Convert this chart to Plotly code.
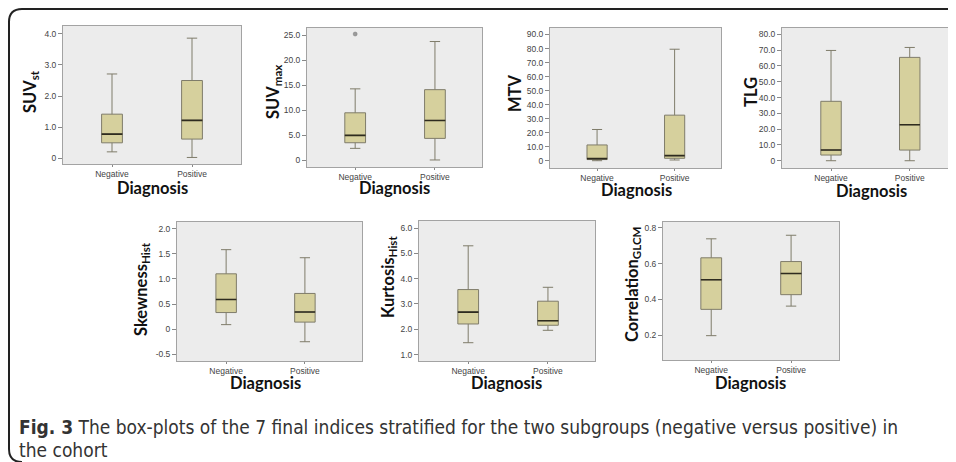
import plotly.graph_objects as go

# page is 956x462; the browser body has an 8px margin, so the figure is drawn
# 8px smaller and all page-pixel positions are shifted by that offset
PAGE_W, PAGE_H = 956, 462
OFF = 8
W, H = PAGE_W - OFF, PAGE_H - OFF

categories = ["Negative", "Positive"]

# ---- data: [Negative, Positive] ----
suvst_lo = [0.21, 0.03]
suvst_q1 = [0.50, 0.62]
suvst_med = [0.78, 1.22]
suvst_q3 = [1.42, 2.50]
suvst_hi = [2.71, 3.86]

suvmax_lo = [2.39, 0.07]
suvmax_q1 = [3.51, 4.38]
suvmax_med = [4.97, 7.96]
suvmax_q3 = [9.48, 14.1]
suvmax_hi = [14.26, 23.7]
suvmax_outlier_cat = ["Negative"]
suvmax_outlier_val = [25.2]

mtv_lo = [0.2, 0.7]
mtv_q1 = [1.0, 1.9]
mtv_med = [1.7, 3.8]
mtv_q3 = [11.4, 32.6]
mtv_hi = [22.4, 79.5]

tlg_lo = [0.0, 0.0]
tlg_q1 = [3.6, 6.75]
tlg_med = [6.75, 22.8]
tlg_q3 = [37.6, 65.4]
tlg_hi = [69.8, 71.7]

skew_lo = [0.09, -0.25]
skew_q1 = [0.33, 0.14]
skew_med = [0.59, 0.34]
skew_q3 = [1.10, 0.71]
skew_hi = [1.58, 1.42]

kurt_lo = [1.47, 1.96]
kurt_q1 = [2.21, 2.16]
kurt_med = [2.68, 2.34]
kurt_q3 = [3.57, 3.11]
kurt_hi = [5.30, 3.66]

corr_lo = [0.198, 0.363]
corr_q1 = [0.345, 0.427]
corr_med = [0.510, 0.545]
corr_q3 = [0.633, 0.612]
corr_hi = [0.739, 0.759]

# tick labels
suvst_ticks = [0, 1, 2, 3, 4]
suvst_ticktext = ["0", "1.0", "2.0", "3.0", "4.0"]
suvmax_ticks = [0, 5, 10, 15, 20, 25]
suvmax_ticktext = ["0", "5.0", "10.0", "15.0", "20.0", "25.0"]
mtv_ticks = [0, 10, 20, 30, 40, 50, 60, 70, 80, 90]
mtv_ticktext = ["0", "10.0", "20.0", "30.0", "40.0", "50.0", "60.0", "70.0", "80.0", "90.0"]
tlg_ticks = [0, 10, 20, 30, 40, 50, 60, 70, 80]
tlg_ticktext = ["0", "10.0", "20.0", "30.0", "40.0", "50.0", "60.0", "70.0", "80.0"]
skew_ticks = [-0.5, 0, 0.5, 1.0, 1.5, 2.0]
skew_ticktext = ["-0.5", "0", "0.5", "1.0", "1.5", "2.0"]
kurt_ticks = [1, 2, 3, 4, 5, 6]
kurt_ticktext = ["1.0", "2.0", "3.0", "4.0", "5.0", "6.0"]
corr_ticks = [0.2, 0.4, 0.6, 0.8]
corr_ticktext = ["0.2", "0.4", "0.6", "0.8"]

titles = ["SUV<sub>st</sub>", "SUV<sub>max</sub>", "MTV", "TLG",
          "Skewness<sub>Hist</sub>", "Kurtosis<sub>Hist</sub>", "Correlation<sub>GLCM</sub>"]
xlabel = "Diagnosis"
caption_bold = "Fig. 3"
caption_line1 = "The box-plots of the 7 final indices stratified for the two subgroups (negative versus positive) in"
caption_line2 = "the cohort"

stats = [
    (suvst_lo, suvst_q1, suvst_med, suvst_q3, suvst_hi, suvst_ticks, suvst_ticktext),
    (suvmax_lo, suvmax_q1, suvmax_med, suvmax_q3, suvmax_hi, suvmax_ticks, suvmax_ticktext),
    (mtv_lo, mtv_q1, mtv_med, mtv_q3, mtv_hi, mtv_ticks, mtv_ticktext),
    (tlg_lo, tlg_q1, tlg_med, tlg_q3, tlg_hi, tlg_ticks, tlg_ticktext),
    (skew_lo, skew_q1, skew_med, skew_q3, skew_hi, skew_ticks, skew_ticktext),
    (kurt_lo, kurt_q1, kurt_med, kurt_q3, kurt_hi, kurt_ticks, kurt_ticktext),
    (corr_lo, corr_q1, corr_med, corr_q3, corr_hi, corr_ticks, corr_ticktext),
]

# ---- layout (page-pixel geometry of each panel) ----
# (left, right, top, bottom), x range, y range, y-title (x,y), x-title (x,y)
geom = [
    ((63, 241, 26, 164), [-0.6125, 1.6125], [-0.18, 4.25], (30, 92), (152, 188)),
    ((307, 482, 28, 167), [-0.604, 1.59], [-1.33, 26.4], (273, 92), (394, 188)),
    ((550, 721, 28, 168), [-0.607, 1.598], [-5, 94.6], (515, 93), (636, 190)),
    ((782, 956, 28, 168), [-0.623, 1.588], [-4.6, 84], (751, 92), (871, 191)),
    ((177, 362, 222, 361), [-0.624, 1.725], [-0.633, 2.13], (141, 289), (265, 383)),
    ((419, 595, 221, 361), [-0.617, 1.59], [0.747, 6.28], (388, 277), (506, 383)),
    ((663, 839, 222, 360), [-0.604, 1.6], [0.062, 0.833], (632, 284), (750, 383)),
]

FILL = "#d6d09d"
EDGE = "#7f7c6a"
MED = "#2e2b1f"
BG = "#ececec"
TICKFONT = dict(family="Liberation Sans, Arial, sans-serif", size=8.5, color="#444444")
TITLEFONT = dict(family="Lato, Open Sans, sans-serif", size=16.5, color="#111111")


def px(x):
    return (x - OFF) / W


def py(y):
    return 1 - (y - OFF) / H


fig = go.Figure()
annotations = []
layout_axes = {}

for i, (st, g, title) in enumerate(zip(stats, geom, titles), start=1):
    lo, q1, med, q3, hi, tv, tt = st
    (l, r, t, b), xr, yr, ytxy, xtxy = g
    xa = "x" if i == 1 else f"x{i}"
    ya = "y" if i == 1 else f"y{i}"
    fig.add_trace(go.Box(
        x=categories, q1=q1, median=med, q3=q3, lowerfence=lo, upperfence=hi,
        width=0.26, whiskerwidth=0.5, fillcolor=FILL,
        line=dict(color=EDGE, width=1), boxpoints=False,
        xaxis=xa, yaxis=ya, showlegend=False))
    # darker median line
    fig.add_trace(go.Box(
        x=categories, q1=med, median=med, q3=med, lowerfence=med, upperfence=med,
        width=0.26, whiskerwidth=0, fillcolor="rgba(0,0,0,0)",
        line=dict(color=MED, width=1.6), boxpoints=False,
        xaxis=xa, yaxis=ya, showlegend=False))
    xkey = "xaxis" if i == 1 else f"xaxis{i}"
    ykey = "yaxis" if i == 1 else f"yaxis{i}"
    layout_axes[xkey] = dict(
        domain=[px(l), min(1.0, px(r))], anchor=ya, type="category",
        categoryorder="array", categoryarray=categories, range=xr,
        showline=True, mirror=True, linecolor="#a3a3a3", linewidth=1,
        ticks="outside", ticklen=2, tickcolor="#888888", tickfont=TICKFONT,
        showgrid=False, zeroline=False, fixedrange=True)
    layout_axes[ykey] = dict(
        domain=[py(b), py(t)], anchor=xa, range=yr,
        tickvals=tv, ticktext=tt,
        showline=True, mirror=True, linecolor="#a3a3a3", linewidth=1,
        ticks="outside", ticklen=4, tickcolor="#888888", tickfont=TICKFONT,
        showgrid=False, zeroline=False, fixedrange=True)
    annotations.append(dict(
        text=f"<b>{title}</b>", x=px(ytxy[0]), y=py(ytxy[1]), xref="paper", yref="paper",
        textangle=-90, showarrow=False, xanchor="center", yanchor="middle", font=TITLEFONT))
    annotations.append(dict(
        text=f"<b>{xlabel}</b>", x=px(xtxy[0]), y=py(xtxy[1]), xref="paper", yref="paper",
        showarrow=False, xanchor="center", yanchor="middle", font=TITLEFONT))

# outlier in SUVmax panel
fig.add_trace(go.Scatter(
    x=suvmax_outlier_cat, y=suvmax_outlier_val, mode="markers",
    marker=dict(symbol="circle", size=4, color="#9a9a9a", line=dict(color="#7a7a7a", width=0.5)),
    xaxis="x2", yaxis="y2", showlegend=False))

CAPFONT = dict(family="Liberation Sans Narrow, DejaVu Sans Condensed, Open Sans, sans-serif",
               size=19, color="#333333")
annotations.append(dict(
    text=f"<b>{caption_bold}</b> {caption_line1}",
    x=px(17), y=py(427), xref="paper", yref="paper", showarrow=False,
    xanchor="left", yanchor="middle", font=CAPFONT))
annotations.append(dict(
    text=caption_line2, x=px(17), y=py(450), xref="paper", yref="paper", showarrow=False,
    xanchor="left", yanchor="middle", font=CAPFONT))

border = (f"M {px(22)},{py(462)} Q {px(9)},{py(462)} {px(9)},{py(449)} "
          f"L {px(9)},{py(22)} Q {px(9)},{py(9)} {px(22)},{py(9)} L {px(960)},{py(9)}")

fig.update_layout(
    width=W, height=H, margin=dict(l=0, r=0, t=0, b=0),
    paper_bgcolor="white", plot_bgcolor=BG, boxmode="overlay",
    annotations=annotations,
    shapes=[dict(type="path", path=border, xref="paper", yref="paper",
                 line=dict(color="#222222", width=2))],
    **layout_axes)

fig.write_html("out.html")
